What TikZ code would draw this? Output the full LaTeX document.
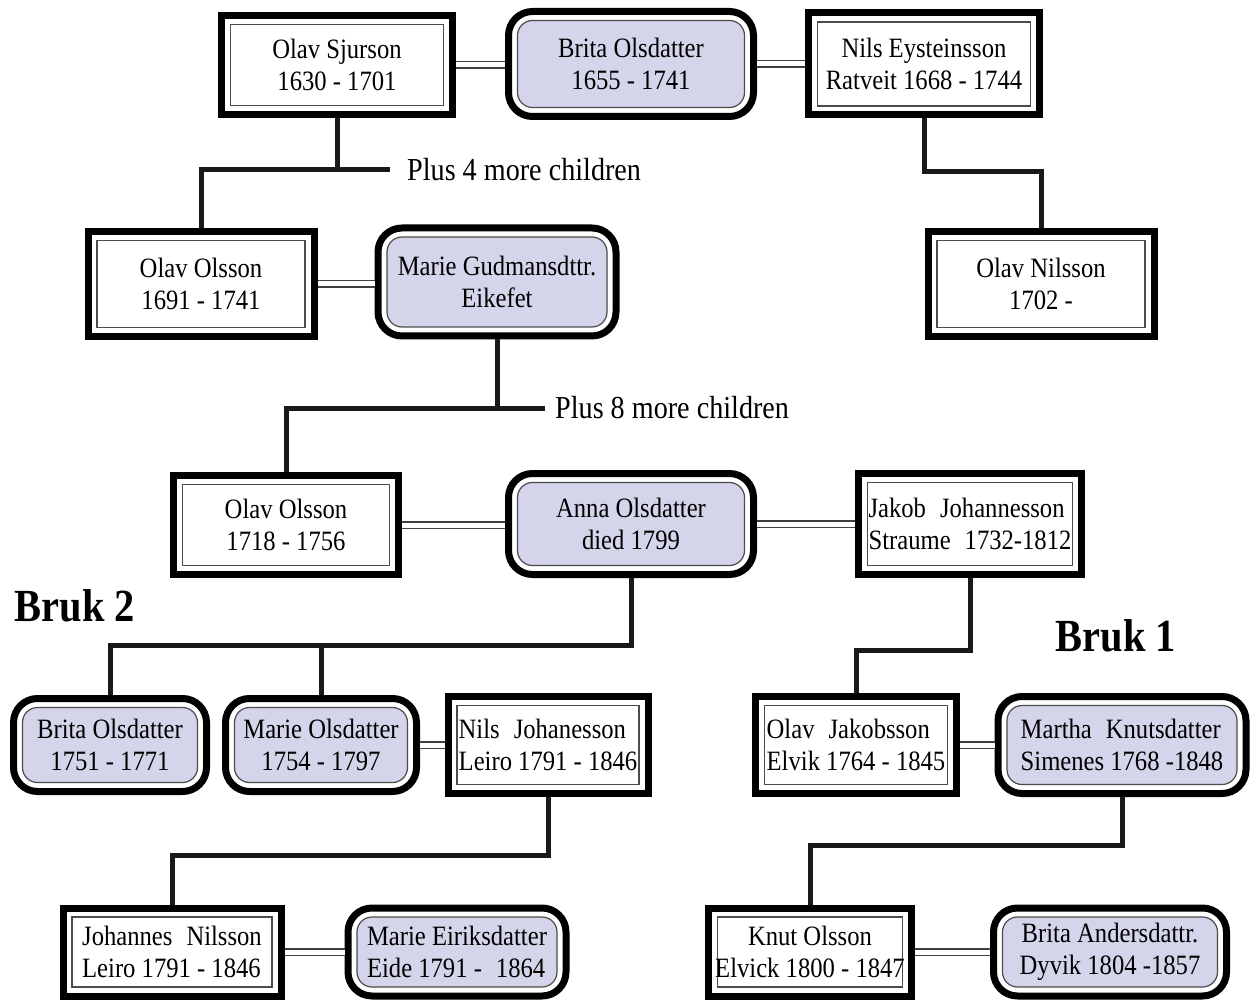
\documentclass[tikz,border=0pt]{standalone}
\usepackage{fontspec}
\setmainfont[FakeStretch=0.88]{Liberation Serif}
\usetikzlibrary{calc}
\definecolor{lilac}{RGB}{212,212,234}
\tikzset{
    box/.style={draw=black,line width=7pt,fill=white,inner sep=0pt,align=center,font=\fontsize{28}{32}\selectfont},
    man/.style={box,path picture={\draw[line width=1.2pt,draw=black!70] ([shift={(9pt,9pt)}]path picture bounding box.south west) rectangle ([shift={(-9pt,-9pt)}]path picture bounding box.north east);}},
    woman/.style={box,rounded corners=24pt,path picture={\draw[line width=1.2pt,draw=black!70,fill=lilac,rounded corners=15pt] ([shift={(9pt,9pt)}]path picture bounding box.south west) rectangle ([shift={(-9pt,-9pt)}]path picture bounding box.north east);}},
    stem/.style={line width=5pt,draw=black!90},
    wed/.style={draw=black!75,line width=1.3pt,double=white,double distance=5pt}
}

\begin{document}
\begin{tikzpicture}[x=1pt,y=-1pt]
        \useasboundingbox (0,0) rectangle (1251,1000);
        % Generation 1
        \node [man,minimum width=231pt,minimum height=99pt] (sjurson) at (337,65) {Olav Sjurson\\1630 - 1701};
        \node [woman,minimum width=245pt,minimum height=105pt] (brita1) at (631,64) {Brita Olsdatter\\1655 - 1741};
        \node [man,minimum width=231pt,minimum height=102pt] (nils1) at (924,64) {Nils Eysteinsson\\Ratveit 1668 - 1744};
        \draw [wed] (sjurson.east) -- (sjurson.east -| brita1.west);
        \draw [wed] (brita1.east) -- (brita1.east -| nils1.west);
        % Generation 2
        \node [man,minimum width=226pt,minimum height=105pt] (olav2) at (201,284) {Olav Olsson\\1691 - 1741};
        \node [woman,minimum width=238pt,minimum height=108pt] (marie1) at (497,282) {Marie Gudmansdttr.\\Eikefet};
        \node [man,minimum width=226pt,minimum height=105pt] (olavN) at (1041,284) {Olav Nilsson\\1702 -};
        \draw [wed] (olav2.east) -- (olav2.east -| marie1.west);
        \node [anchor=west,inner sep=0pt,inner xsep=17pt,font=\fontsize{32}{34}\selectfont] (plus4) at (390,170) {Plus 4 more children};
        \draw [stem] (sjurson.south) -- (sjurson.south |- plus4.west);
        \draw [stem] (olav2.north) |- (plus4.west);
        \draw [stem] (nils1.south) -- ++(0,53) -| (olavN.north);
        % Generation 3
        \node [man,minimum width=225pt,minimum height=99pt] (olav3) at (286,525) {Olav Olsson\\1718 - 1756};
        \node [woman,minimum width=245pt,minimum height=101pt] (anna) at (631,524) {Anna Olsdatter\\died 1799};
        \node [man,minimum width=223pt,minimum height=101pt,align=left] (jakob) at (970,524) {Jakob\enspace Johannesson\\Straume\enspace 1732-1812};
        \draw [wed] (olav3.east) -- (olav3.east -| anna.west);
        \draw [wed] (anna.east) -- (anna.east -| jakob.west);
        \node [anchor=west,inner sep=0pt,inner xsep=10pt,font=\fontsize{32}{34}\selectfont] (plus8) at (545,408) {Plus 8 more children};
        \draw [stem] (marie1.south) -- (marie1.south |- plus8.west);
        \draw [stem] (olav3.north) |- (plus8.west);
        % Bruk labels
        \node [font=\fontsize{46}{48}\selectfont\bfseries] (bruk2) at (75,606) {Bruk 2};
        \node [font=\fontsize{46}{48}\selectfont\bfseries] (bruk1) at (1116,636) {Bruk 1};
        % Generation 4
        \node [woman,minimum width=193pt,minimum height=93pt] (brita2) at (110,745) {Brita Olsdatter\\1751 - 1771};
        \node [woman,minimum width=191pt,minimum height=93pt] (marie2) at (321,745) {Marie Olsdatter\\1754 - 1797};
        \node [man,minimum width=200pt,minimum height=97pt,align=left] (nilsJ) at (548,745) {Nils\enspace Johanesson\\Leiro 1791 - 1846};
        \node [man,minimum width=201pt,minimum height=97pt,align=left] (olavJ) at (856,745) {Olav\enspace Jakobsson\\Elvik 1764 - 1845};
        \node [woman,minimum width=248pt,minimum height=97pt,align=left] (martha) at (1122,745) {Martha\enspace Knutsdatter\\Simenes 1768 -1848};
        \draw [wed] (marie2.east) -- (marie2.east -| nilsJ.west);
        \draw [wed] (olavJ.east) -- (olavJ.east -| martha.west);
        \draw [stem] (anna.south) -- ++(0,67) coordinate (annakids) -| (brita2.north);
        \draw [stem] (marie2.north) -- (marie2.north |- annakids);
        \draw [stem] (jakob.south) -- ++(0,72) -| (olavJ.north);
        % Generation 5
        \node [man,minimum width=218pt,minimum height=88pt,align=left] (johannes) at (172,952) {Johannes\enspace Nilsson\\Leiro 1791 - 1846};
        \node [woman,minimum width=218pt,minimum height=88pt,align=left] (marie3) at (457,952) {Marie Eiriksdatter\\Eide 1791 -\enspace 1864};
        \node [man,minimum width=203pt,minimum height=88pt] (knut) at (810,952) {Knut Olsson\\Elvick 1800 - 1847};
        \node [woman,minimum width=233pt,minimum height=88pt] (britaA) at (1110,952) {Brita Andersdattr.\\Dyvik 1804 -1857};
        \draw [wed] (johannes.east) -- (johannes.east -| marie3.west);
        \draw [wed] (knut.east) -- (knut.east -| britaA.west);
        \draw [stem] (nilsJ.south) -- ++(0,58) -| (johannes.north);
        \draw [stem] (martha.south) -- ++(0,48) -| (knut.north);
    \end{tikzpicture}
\end{document}
